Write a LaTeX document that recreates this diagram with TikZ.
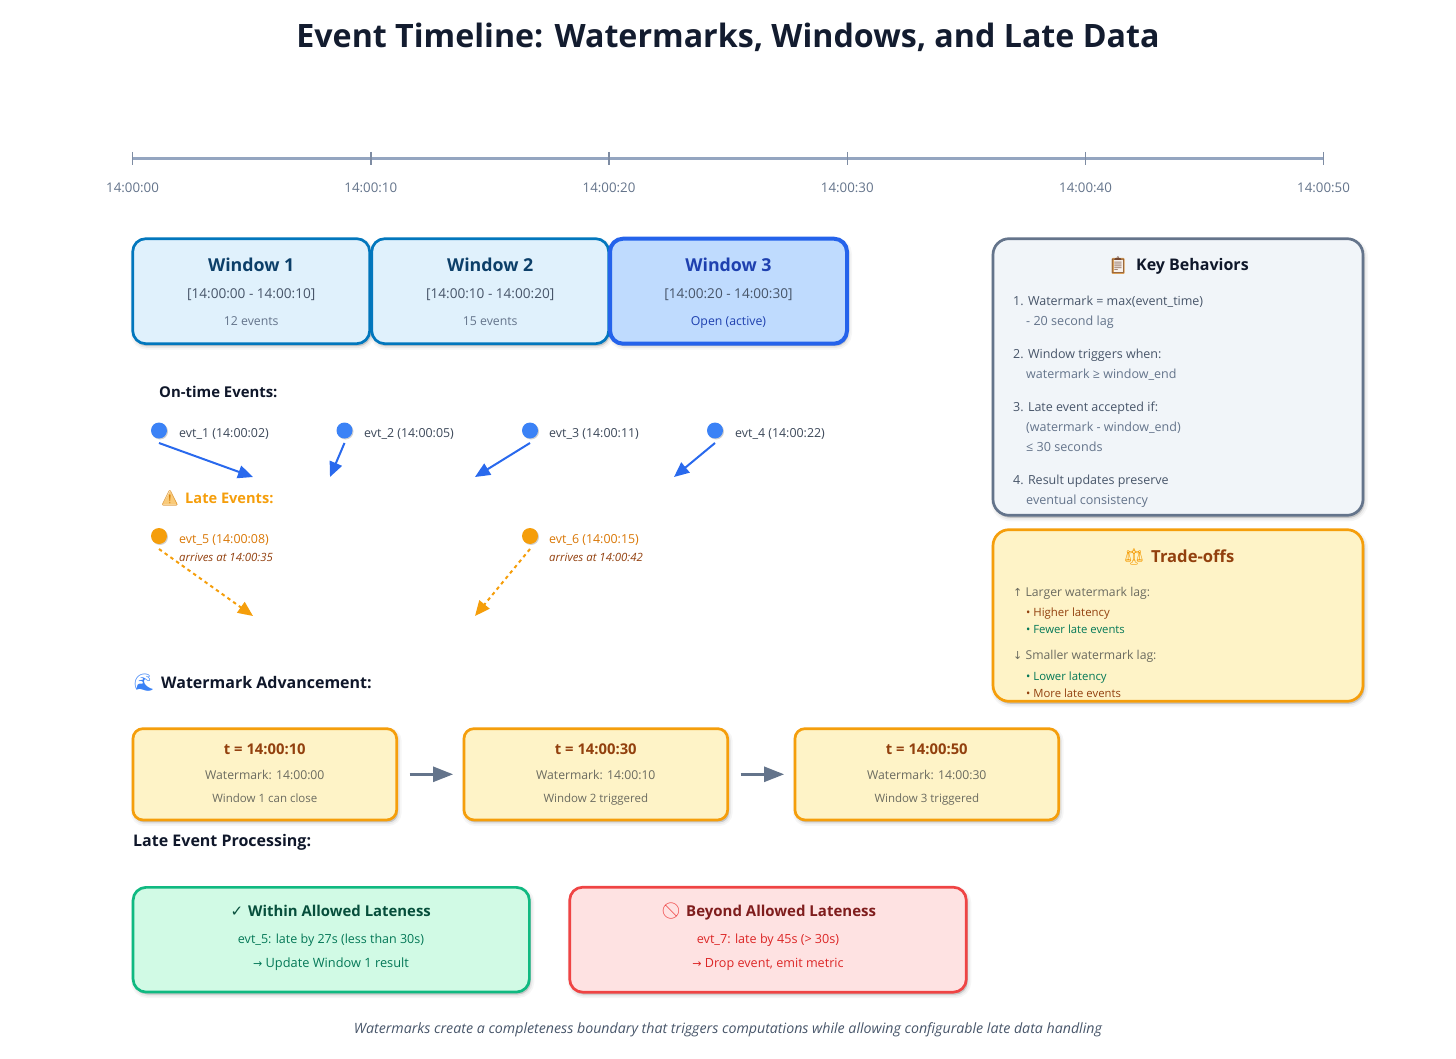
\documentclass[tikz,border=0pt]{standalone}
\usepackage{fontspec}
\setmainfont{Open Sans}
\newfontfamily\symfont{DejaVu Sans}
\newfontfamily\emojifont{Noto Emoji}
\usetikzlibrary{arrows.meta,shadows}
\definecolor{Ink}{HTML}{0F172A}
\definecolor{Slate}{HTML}{475569}
\definecolor{SlateLt}{HTML}{64748B}
\definecolor{Axis}{HTML}{94A5C0}
\definecolor{WinEdge}{HTML}{0277BD}
\definecolor{WinFill}{HTML}{E0F1FC}
\definecolor{WinText}{HTML}{0C3F69}
\definecolor{ActEdge}{HTML}{2563EB}
\definecolor{ActFill}{HTML}{BFDBFE}
\definecolor{ActText}{HTML}{1E40AF}
\definecolor{Blue}{HTML}{3B82F6}
\definecolor{Amber}{HTML}{F59E0B}
\definecolor{AmberDeep}{HTML}{D97706}
\definecolor{AmberFill}{HTML}{FEF3C7}
\definecolor{Brown}{HTML}{92400E}
\definecolor{Stone}{HTML}{6B6B60}
\definecolor{Pine}{HTML}{047857}
\definecolor{Emerald}{HTML}{10B981}
\definecolor{EmeraldFill}{HTML}{D1FAE5}
\definecolor{Forest}{HTML}{064E3B}
\definecolor{Rose}{HTML}{EF4444}
\definecolor{RoseFill}{HTML}{FEE2E2}
\definecolor{RoseText}{HTML}{DC2626}
\definecolor{Maroon}{HTML}{7F1D1D}
\definecolor{PanelFill}{HTML}{F1F5F9}
\newcommand{\SideLine}[5]{%
  \node[ltxt,font=\fontsize{#5}{16}\selectfont,text=#4] (#1) at #2 {#3};%
}
\tikzset{
  softshadow/.style={
    general shadow={shadow xshift=1.5pt,shadow yshift=-2.5pt,fill=black,draw=black,opacity=.035,line width=7pt},
    general shadow={shadow xshift=1.5pt,shadow yshift=-2.5pt,fill=black,draw=black,opacity=.05,line width=3.5pt},
    general shadow={shadow xshift=1.5pt,shadow yshift=-2.5pt,fill=black,opacity=.08}},
  panel/.style={draw,line width=2.7pt,rounded corners=#1,softshadow,inner sep=0pt},
  panel/.default=13pt,
  txt/.style={inner sep=0pt,anchor=mid,yshift=-2.7pt},
  ltxt/.style={inner sep=0pt,anchor=mid west,yshift=-2.7pt},
  head/.style={ltxt,font=\fontsize{#1}{18}\selectfont\bfseries,text=Ink},
  head/.default=15,
  dot/.style={circle,inner sep=0pt,minimum size=16pt,softdot},
  softdot/.style={general shadow={shadow xshift=1pt,shadow yshift=-1pt,fill=black,opacity=.18}},
  lateline/.style={Amber,line width=2pt,dash pattern=on 3.5pt off 3.5pt,-{Triangle[length=15pt,width=13pt]}},
  timeline/.style={ActEdge!80!Blue,line width=2pt,-{Triangle[length=15pt,width=13pt]}},
  stepline/.style={SlateLt,line width=2.6pt,shorten <=11.5pt,shorten >=9.5pt,-{Triangle[length=20pt,width=15pt]}}
}
\begin{document}
\begin{tikzpicture}[x=1pt,y=-1pt]
\useasboundingbox (0,0) rectangle (1456,1059);
\node[txt,font=\fontsize{32.2}{38}\selectfont\bfseries,text=Ink!92!Slate] (title) at (728,42.5) {Event Timeline: Watermarks, Windows, and Late Data};
% time axis
\draw[Axis,line width=3pt] (132,158.5) coordinate (axisL) -- (1323.5,158.5) coordinate (axisR);
\foreach \i/\x/\s in {0/132.5/00,1/370.8/10,2/609/20,3/847.3/30,4/1085.5/40,5/1323.5/50} {
  \draw[Axis!85!black,line width=1.4pt] (\x,152) -- (\x,165);
  \node[txt,font=\fontsize{13.3}{16}\selectfont,text=SlateLt] (tick\i) at (\x,187) {14:00:\s};
}
% windows
\foreach \i/\x/\a/\b/\n in {1/251.2/00/10/12,2/490.2/10/20/15} {
  \node[panel,draw=WinEdge,fill=WinFill,minimum width=237pt,minimum height=105pt] (win\i) at (\x,291.2) {};
  \node[txt,font=\fontsize{17.8}{20}\selectfont\bfseries,text=WinText] (win\i t) at (\x,266) {Window \i};
  \node[txt,font=\fontsize{13.6}{16}\selectfont,text=Slate] (win\i r) at (\x,293) {[14:00:\a\ - 14:00:\b]};
  \node[txt,font=\fontsize{12.3}{14}\selectfont,text=SlateLt] (win\i n) at (\x,320) {\n\ events};
}
\node[panel,draw=ActEdge,fill=ActFill,line width=4pt,minimum width=237pt,minimum height=105pt] (win3) at (728.5,291.2) {};
\node[txt,font=\fontsize{17.8}{20}\selectfont\bfseries,text=ActText] (win3t) at (728.5,266) {Window 3};
\node[txt,font=\fontsize{13.6}{16}\selectfont,text=Slate] (win3r) at (728.5,293) {[14:00:20 - 14:00:30]};
\node[txt,font=\fontsize{12.3}{14}\selectfont,text=ActText] (win3n) at (728.5,320) {Open (active)};
% on-time events
\node[head=14.9] (ontime) at (159,392) {On-time Events:};
\foreach \i/\x/\lx/\s/\tx in {1/159/179/02/253,2/344.5/364/05/330,3/530/549/11/475,4/715/735/22/674} {
  \node[dot,fill=Blue] (evt\i) at (\x,430.5) {};
  \node[ltxt,font=\fontsize{12.4}{14}\selectfont,text=Slate!85!black] (evt\i l) at (\lx,432) {evt\_\i\ (14:00:\s)};
  \coordinate (tip\i) at (\tx,477);
  \coordinate (off\i) at (\x,443);
  \draw[timeline] (off\i) -- (tip\i);
}
% late events
\fill[Amber!55!white] (170,491) -- (177.5,504.5) -- (162.5,504.5) -- cycle;
\node[txt,font=\emojifont\fontsize{15}{18}\selectfont,text=Amber!70!Brown] (warn) at (170,498) {^^^^26a0};
\node[head=14.6,text=Amber] (late) at (185,498) {Late Events:};
\foreach \i/\x/\lx/\s/\a/\tx in {5/159/179/08/35/253,6/530/549/15/42/475} {
  \node[dot,fill=Amber] (evt\i) at (\x,536) {};
  \node[ltxt,font=\fontsize{12.4}{14}\selectfont,text=AmberDeep] (evt\i l) at (\lx,538) {evt\_\i\ (14:00:\s)};
  \node[ltxt,font=\fontsize{11.4}{12}\selectfont\itshape,text=Brown] (evt\i a) at (\lx,556) {arrives at 14:00:\a};
  \coordinate (tip\i) at (\tx,616);
  \coordinate (off\i) at (\x,549);
  \draw[lateline] (off\i) -- (tip\i);
}
% watermark steps
\node[txt,font=\emojifont\fontsize{17}{20}\selectfont,text=Blue] (wave) at (144,683) {^^^^^^01f30a};
\node[head=16] (wmhead) at (161,683) {Watermark Advancement:};
\foreach \i/\x/\t/\w/\s in {1/264.8/10/00/Window 1 can close,2/595.8/30/10/Window 2 triggered,3/926.8/50/30/Window 3 triggered} {
  \node[panel=10pt,draw=Amber,fill=AmberFill,minimum width=263.7pt,minimum height=91.3pt] (step\i) at (\x,774.3) {};
  \node[txt,font=\fontsize{14.8}{16}\selectfont\bfseries,text=Brown] (step\i t) at (\x,749.5) {t = 14:00:\t};
  \node[txt,font=\fontsize{12.2}{16}\selectfont,text=Stone] (step\i w) at (\x,774) {Watermark: 14:00:\w};
  \node[txt,font=\fontsize{11.5}{14}\selectfont,text=Stone] (step\i s) at (\x,797) {\s};
}
\draw[stepline] (step1) -- (step2);
\draw[stepline] (step2) -- (step3);
% late processing
\node[head=16] (lphead) at (133,841) {Late Event Processing:};
\node[panel,draw=Emerald,fill=EmeraldFill,minimum width=396.3pt,minimum height=104.7pt] (okbox) at (331.2,939.7) {};
\node[txt,font=\symfont\fontsize{15}{18}\selectfont,text=Forest] (okmark) at (237,911) {^^^^2713};
\node[head=14.9,text=Forest] (oktitle) at (248,911) {Within Allowed Lateness};
\node[txt,font=\fontsize{12.5}{16}\selectfont,text=Pine] (okline1) at (331,938) {evt\_5: late by 27s (less than 30s)};
\node[txt,font=\fontsize{12.8}{16}\selectfont,text=Pine] (okline2) at (331,962) {{\symfont\fontsize{11}{16}\selectfont ^^^^2192} Update Window 1 result};
\node[panel,draw=Rose,fill=RoseFill,minimum width=396.6pt,minimum height=105pt] (dropbox) at (768,939.7) {};
\node[txt,font=\emojifont\fontsize{16}{18}\selectfont,text=Rose] (dropmark) at (671,911) {^^^^^^01f6ab};
\node[head=15,text=Maroon] (droptitle) at (686,911) {Beyond Allowed Lateness};
\node[txt,font=\fontsize{12.6}{16}\selectfont,text=RoseText] (dropline1) at (768,938) {evt\_7: late by 45s (> 30s)};
\node[txt,font=\fontsize{12.6}{16}\selectfont,text=RoseText] (dropline2) at (768,962) {{\symfont\fontsize{11}{16}\selectfont ^^^^2192} Drop event, emit metric};
% key behaviors
\node[panel=16pt,draw=SlateLt,fill=PanelFill,minimum width=370pt,minimum height=276.6pt] (keybox) at (1178,377) {};
\fill[Amber!55!Brown!70!white,rounded corners=1pt] (1111.5,258) rectangle (1124.5,274);
\fill[white!92!Brown] (1113.5,260) rectangle (1122.5,272.5);
\node[txt,font=\emojifont\fontsize{16}{18}\selectfont,text=Brown!60!Slate] (keymark) at (1118,265) {^^^^^^01f4cb};
\node[ltxt,font=\fontsize{16}{18}\selectfont\bfseries,text=Ink] (keytitle) at (1136,265) {Key Behaviors};
\SideLine{key1}{(1013,300)}{1. Watermark = max(event\_time)}{Slate}{12.5}
\SideLine{key2}{(1026,320)}{- 20 second lag}{SlateLt}{12.6}
\SideLine{key3}{(1013,353)}{2. Window triggers when:}{Slate}{12.5}
\SideLine{key4}{(1026,373)}{watermark ≥ window\_end}{SlateLt}{12.5}
\SideLine{key5}{(1013,406)}{3. Late event accepted if:}{Slate}{12.5}
\SideLine{key6}{(1026,426)}{(watermark - window\_end)}{SlateLt}{12.5}
\SideLine{key7}{(1026,446)}{≤ 30 seconds}{SlateLt}{12.6}
\SideLine{key8}{(1013,479)}{4. Result updates preserve}{Slate}{12.5}
\SideLine{key9}{(1026,499)}{eventual consistency}{SlateLt}{12.6}
% trade-offs
\node[panel=16pt,draw=Amber,fill=AmberFill,minimum width=370pt,minimum height=171.6pt] (tradebox) at (1178,615.5) {};
\node[txt,font=\emojifont\fontsize{16}{18}\selectfont,text=Amber] (trademark) at (1134,557) {^^^^2696};
\node[ltxt,font=\fontsize{16.6}{18}\selectfont\bfseries,text=Brown] (tradetitle) at (1151,557) {Trade-offs};
\SideLine{trade1}{(1013,591)}{{\symfont\fontsize{11}{16}\selectfont ^^^^2191} Larger watermark lag:}{Stone}{12.2}
\SideLine{trade2}{(1026,611)}{• Higher latency}{Brown}{11.4}
\SideLine{trade3}{(1026,628)}{• Fewer late events}{Pine}{11.3}
\SideLine{trade4}{(1013,654)}{{\symfont\fontsize{11}{16}\selectfont ^^^^2193} Smaller watermark lag:}{Stone}{12.2}
\SideLine{trade5}{(1026,675)}{• Lower latency}{Pine}{11.4}
\SideLine{trade6}{(1026,692)}{• More late events}{Brown}{11.3}
% note
\node[txt,font=\fontsize{14.2}{16}\selectfont\itshape,text=Slate] (note) at (728,1028) {Watermarks create a completeness boundary that triggers computations while allowing configurable late data handling};
\end{tikzpicture}
\end{document}
